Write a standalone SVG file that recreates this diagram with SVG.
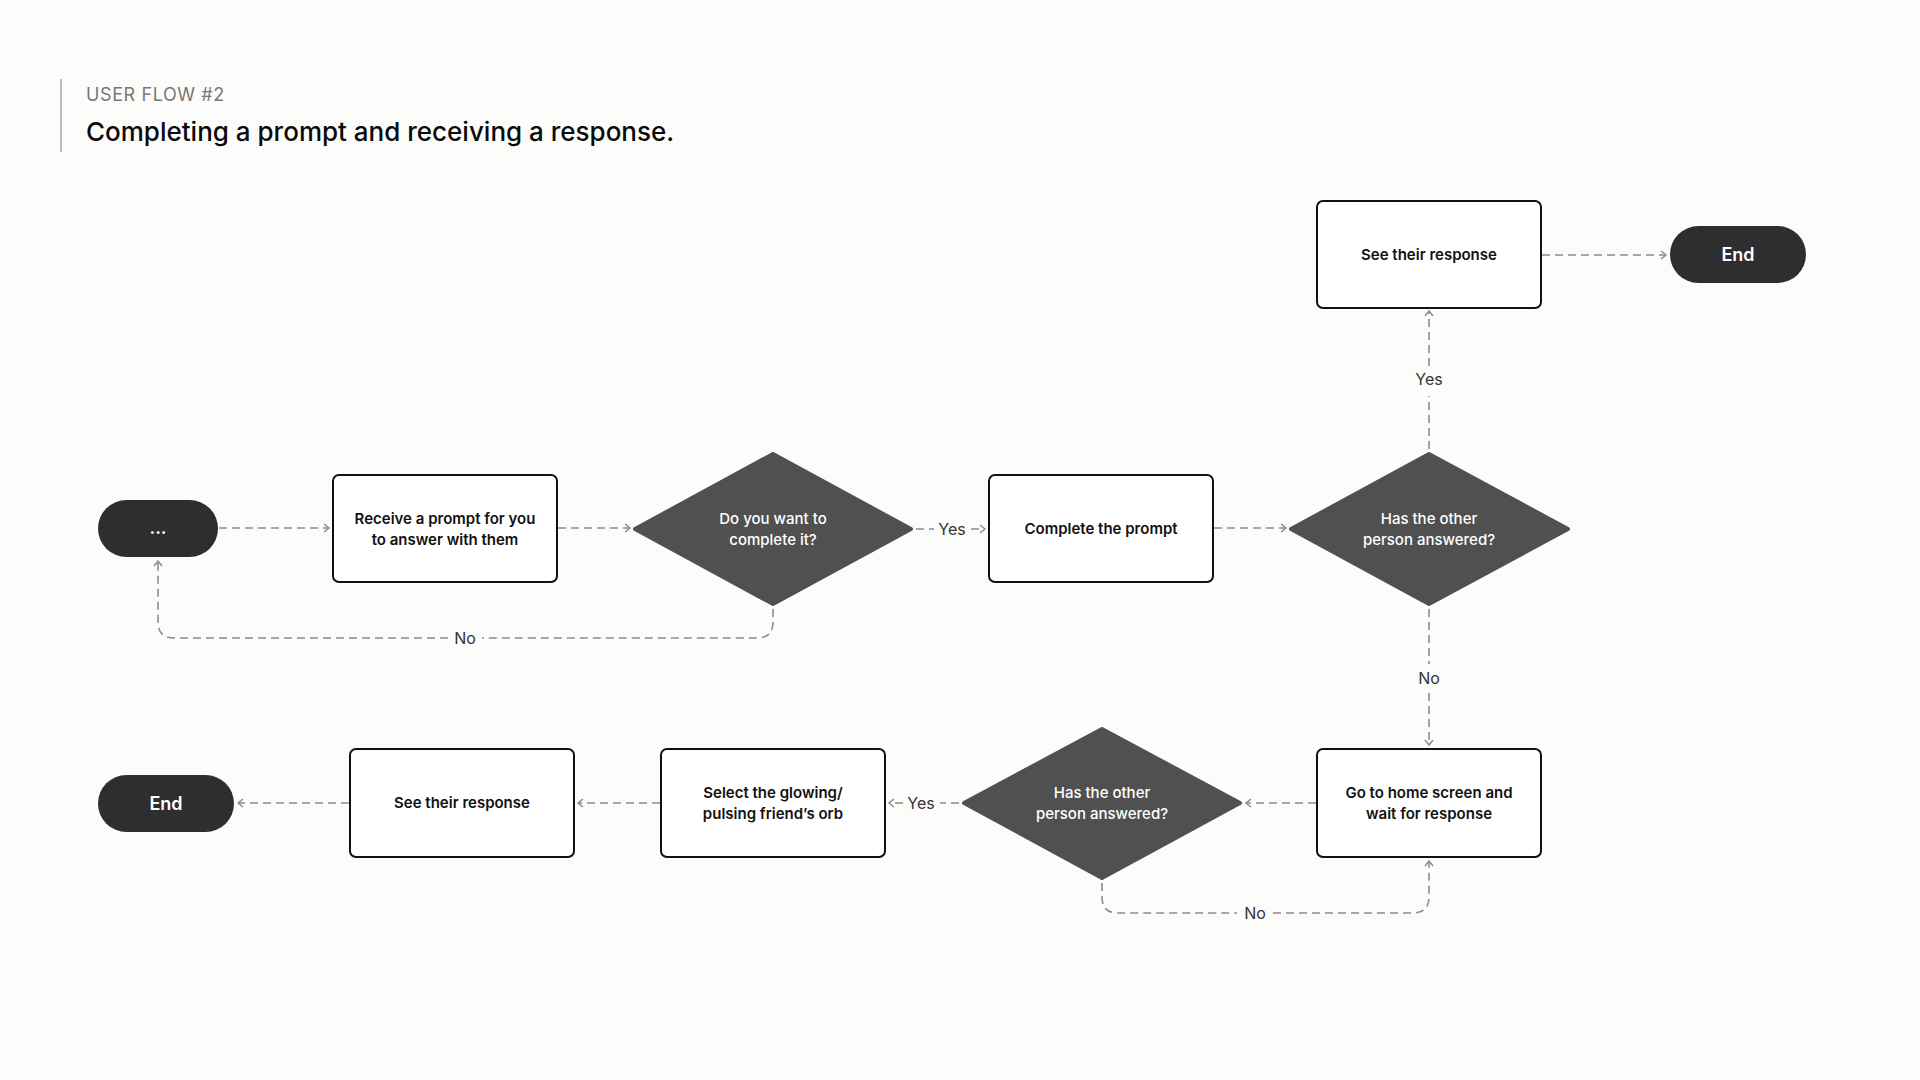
<svg xmlns="http://www.w3.org/2000/svg" width="1920" height="1080" viewBox="0 0 1920 1080">
<defs>
<style>
.bg{fill:#fcfcfb}
.box{fill:#ffffff;stroke:#111111;stroke-width:2}
.dia{fill:#505050;stroke:#505050;stroke-width:4;stroke-linejoin:round}
.pill{fill:#2e2e2e}
.conn{fill:none;stroke:#8c8c8c;stroke-width:1.6;stroke-dasharray:8 5}
.bt{font-family:Inter,"Liberation Sans",sans-serif;font-size:15px;font-weight:600;fill:#111111;text-anchor:middle}
.dt{font-family:Inter,"Liberation Sans",sans-serif;font-size:15px;font-weight:500;fill:#ffffff;text-anchor:middle}
.pt{font-family:Inter,"Liberation Sans",sans-serif;font-size:18px;font-weight:600;fill:#ffffff;text-anchor:middle}
.lb{font-family:Inter,"Liberation Sans",sans-serif;font-size:16px;font-weight:400;fill:#333333;text-anchor:middle}
</style>
<marker id="arr" viewBox="0 0 10 12" refX="8" refY="6" markerWidth="10" markerHeight="12" markerUnits="userSpaceOnUse" orient="auto">
<path d="M3,2 L8,6 L3,10" fill="none" stroke="#8c8c8c" stroke-width="1.5"/>
</marker>
</defs>
<rect class="bg" x="0" y="0" width="1920" height="1080"/>
<g id="header">
<line x1="61" y1="79" x2="61" y2="152" stroke="#bdbdbd" stroke-width="2"/>
<text x="86" y="101" font-family="Inter,'Liberation Sans',sans-serif" font-size="18" letter-spacing="0.6" fill="#777777">USER FLOW #2</text>
<text x="86" y="141" font-family="Inter,'Liberation Sans',sans-serif" font-size="26" font-weight="500" fill="#0a0a0a">Completing a prompt and receiving a response.</text>
</g>
<g id="connectors">
<path class="conn" d="M219,528 H329" marker-end="url(#arr)"/>
<path class="conn" d="M558,528 H630" marker-end="url(#arr)"/>
<path class="conn" d="M916,529 H934"/>
<text class="lb" x="952" y="535">Yes</text>
<path class="conn" d="M971,529 H985" marker-end="url(#arr)"/>
<path class="conn" d="M1214,528 H1286" marker-end="url(#arr)"/>
<path class="conn" d="M1429,449 V396"/>
<text class="lb" x="1429" y="385">Yes</text>
<path class="conn" d="M1429,366 V311" marker-end="url(#arr)"/>
<path class="conn" d="M1542,255 H1666" marker-end="url(#arr)"/>
<path class="conn" d="M1429,609 V664"/>
<text class="lb" x="1429" y="684">No</text>
<path class="conn" d="M1429,693 V745" marker-end="url(#arr)"/>
<path class="conn" d="M1316,803 H1246" marker-end="url(#arr)"/>
<path class="conn" d="M959,803 H940"/>
<text class="lb" x="921" y="809">Yes</text>
<path class="conn" d="M903,803 H889" marker-end="url(#arr)"/>
<path class="conn" d="M660,803 H578" marker-end="url(#arr)"/>
<path class="conn" d="M349,803 H238" marker-end="url(#arr)"/>
<path class="conn" d="M773,609 V622 Q773,638 757,638 H482"/>
<text class="lb" x="465" y="644">No</text>
<path class="conn" d="M448,638 H174 Q158,638 158,622 V561" marker-end="url(#arr)"/>
<path class="conn" d="M1102,883 V897 Q1102,913 1118,913 H1237"/>
<text class="lb" x="1255" y="919">No</text>
<path class="conn" d="M1273,913 H1413 Q1429,913 1429,897 V861" marker-end="url(#arr)"/>
</g>
<g id="start">
<rect class="pill" x="98" y="500" width="120" height="57" rx="28.5"/>
<text class="pt" x="158" y="534">...</text>
</g>
<g id="receive">
<rect class="box" x="333" y="475" width="224" height="107" rx="6"/>
<text class="bt" x="445" y="524">Receive a prompt for you</text>
<text class="bt" x="445" y="545">to answer with them</text>
</g>
<g id="want">
<path class="dia" d="M773,454 L911,529 L773,604 L635,529 Z"/>
<text class="dt" x="773" y="524">Do you want to</text>
<text class="dt" x="773" y="545">complete it?</text>
</g>
<g id="complete">
<rect class="box" x="989" y="475" width="224" height="107" rx="6"/>
<text class="bt" x="1101" y="534">Complete the prompt</text>
</g>
<g id="answered1">
<path class="dia" d="M1429,454 L1568,529 L1429,604 L1291,529 Z"/>
<text class="dt" x="1429" y="524">Has the other</text>
<text class="dt" x="1429" y="545">person answered?</text>
</g>
<g id="see1">
<rect class="box" x="1317" y="201" width="224" height="107" rx="6"/>
<text class="bt" x="1429" y="260">See their response</text>
</g>
<g id="end1">
<rect class="pill" x="1670" y="226" width="136" height="57" rx="28.5"/>
<text class="pt" x="1738" y="261">End</text>
</g>
<g id="home">
<rect class="box" x="1317" y="749" width="224" height="108" rx="6"/>
<text class="bt" x="1429" y="798">Go to home screen and</text>
<text class="bt" x="1429" y="819">wait for response</text>
</g>
<g id="answered2">
<path class="dia" d="M1102,729 L1240,803 L1102,878 L964,803 Z"/>
<text class="dt" x="1102" y="798">Has the other</text>
<text class="dt" x="1102" y="819">person answered?</text>
</g>
<g id="select">
<rect class="box" x="661" y="749" width="224" height="108" rx="6"/>
<text class="bt" x="773" y="798">Select the glowing/</text>
<text class="bt" x="773" y="819">pulsing friend’s orb</text>
</g>
<g id="see2">
<rect class="box" x="350" y="749" width="224" height="108" rx="6"/>
<text class="bt" x="462" y="808">See their response</text>
</g>
<g id="end2">
<rect class="pill" x="98" y="775" width="136" height="57" rx="28.5"/>
<text class="pt" x="166" y="810">End</text>
</g>
</svg>
